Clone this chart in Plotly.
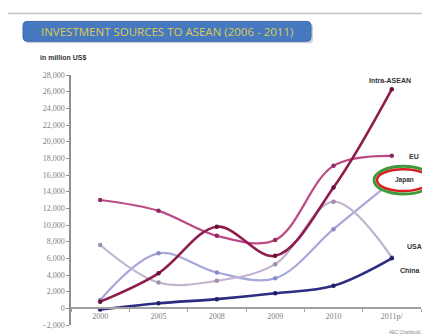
import plotly.graph_objects as go

# ---- data ----
years = ["2000", "2005", "2008", "2009", "2010", "2011p/"]
intra_asean = [800, 4200, 9800, 6300, 14500, 26300]
eu = [13000, 11700, 8700, 8200, 17100, 18300]
japan = [1000, 6600, 4300, 3600, 9500, 15200]
usa = [7600, 3100, 3300, 5300, 12800, 6100]
china = [-150, 600, 1100, 1800, 2700, 6000]
y_ticks = list(range(-2000, 28001, 2000))

W, H = 430, 334
ML, MR, MT, MB = 63, 17, 67, 15
PW, PH = W - ML - MR, H - MT - MB

def px(x):
    return (x - ML) / PW

def py(y):
    return 1 - (y - MT) / PH

series = [
    ("Japan", japan, "#a6a8dc", "#8a8cc8", 2.2),
    ("USA", usa, "#c2b4cf", "#9d8eb0", 2.2),
    ("China", china, "#2b2c82", "#1f2070", 2.6),
    ("EU", eu, "#bb4a86", "#8e2c62", 2.2),
    ("Intra-ASEAN", intra_asean, "#8e1d4e", "#6a1038", 2.6),
]

fig = go.Figure()
for name, vals, col, mcol, w in series:
    fig.add_trace(go.Scatter(
        x=years, y=vals, name=name, mode="lines+markers",
        line=dict(color=col, width=w, shape="spline", smoothing=1.0),
        marker=dict(size=4.5, color=mcol),
        showlegend=False,
    ))

fig.update_layout(
    width=W, height=H,
    margin=dict(l=ML, r=MR, t=MT, b=MB),
    paper_bgcolor="white", plot_bgcolor="white",
    font=dict(family="Liberation Serif", size=8, color="#808080"),
    xaxis=dict(
        type="category", range=[-0.5, 5.5],
        anchor="free", position=2000 / 30000,
        showline=True, linecolor="#a0a0a0", linewidth=1.5,
        ticks="outside", tickson="boundaries", ticklen=3, tickcolor="#a0a0a0",
        showgrid=False, tickfont=dict(family="Liberation Serif", size=8, color="#808080"),
    ),
    yaxis=dict(
        range=[-2000, 28000], tickvals=y_ticks, tickformat=",d",
        showline=True, linecolor="#909090", linewidth=1.5,
        ticks="outside", ticklen=3, tickcolor="#909090",
        showgrid=False, zeroline=False,
        tickfont=dict(family="Liberation Serif", size=8, color="#808080"),
    ),
)

def rrect(x0, y0, x1, y1, r):
    return (f"M {px(x0+r)},{py(y0)} L {px(x1-r)},{py(y0)} "
            f"Q {px(x1)},{py(y0)} {px(x1)},{py(y0+r)} L {px(x1)},{py(y1-r)} "
            f"Q {px(x1)},{py(y1)} {px(x1-r)},{py(y1)} L {px(x0+r)},{py(y1)} "
            f"Q {px(x0)},{py(y1)} {px(x0)},{py(y1-r)} L {px(x0)},{py(y0+r)} "
            f"Q {px(x0)},{py(y0)} {px(x0+r)},{py(y0)} Z")

shapes = [
    dict(type="line", xref="paper", yref="paper",
         x0=px(0), x1=px(430), y0=py(5), y1=py(5),
         line=dict(color="#c4c4c4", width=1.5)),
    dict(type="path", xref="paper", yref="paper",
         path=rrect(17, 15, 305, 35, 4), fillcolor="#c9cfd8",
         line=dict(width=0), layer="above"),
    dict(type="path", xref="paper", yref="paper",
         path=rrect(15, 13, 303, 33, 4), fillcolor="#4679c0",
         line=dict(color="#3a68ab", width=1), layer="above"),
    dict(type="circle", xref="paper", yref="paper",
         x0=px(366), x1=px(425), y0=py(159), y1=py(187),
         fillcolor="white", line=dict(color="#3c9a3c", width=3), layer="above"),
    dict(type="circle", xref="paper", yref="paper",
         x0=px(369), x1=px(422), y0=py(162), y1=py(184),
         fillcolor="white", line=dict(color="#d42020", width=2.5), layer="above"),
]
fig.update_layout(shapes=shapes)

ann = []
def text(x, y, s, size=7, color="#333", bold=False, family="Liberation Sans", xanchor="center"):
    ann.append(dict(x=px(x), y=py(y), xref="paper", yref="paper", text=(f"<b>{s}</b>" if bold else s),
                    showarrow=False, xanchor=xanchor, yanchor="middle",
                    font=dict(size=size, color=color, family=family)))

text(159, 23, "INVESTMENT SOURCES TO ASEAN (2006 - 2011)", size=11.5, color="#dccb55",
     family="Open Sans")
text(30, 50, "in million US$", size=7, color="#333", bold=True, xanchor="left")
text(382, 73, "Intra-ASEAN", size=7, color="#333", bold=True)
text(406, 149, "EU", size=7, color="#333", bold=True)
text(396, 173, "Japan", size=6.5, color="#333", bold=True)
text(406, 240, "USA", size=7, color="#333", bold=True)
text(402, 264, "China", size=7, color="#333", bold=True)
text(402, 327, "AEC Chartbook 2012", size=4.5, color="#888")
fig.update_layout(annotations=ann)

fig.write_html("out.html")
